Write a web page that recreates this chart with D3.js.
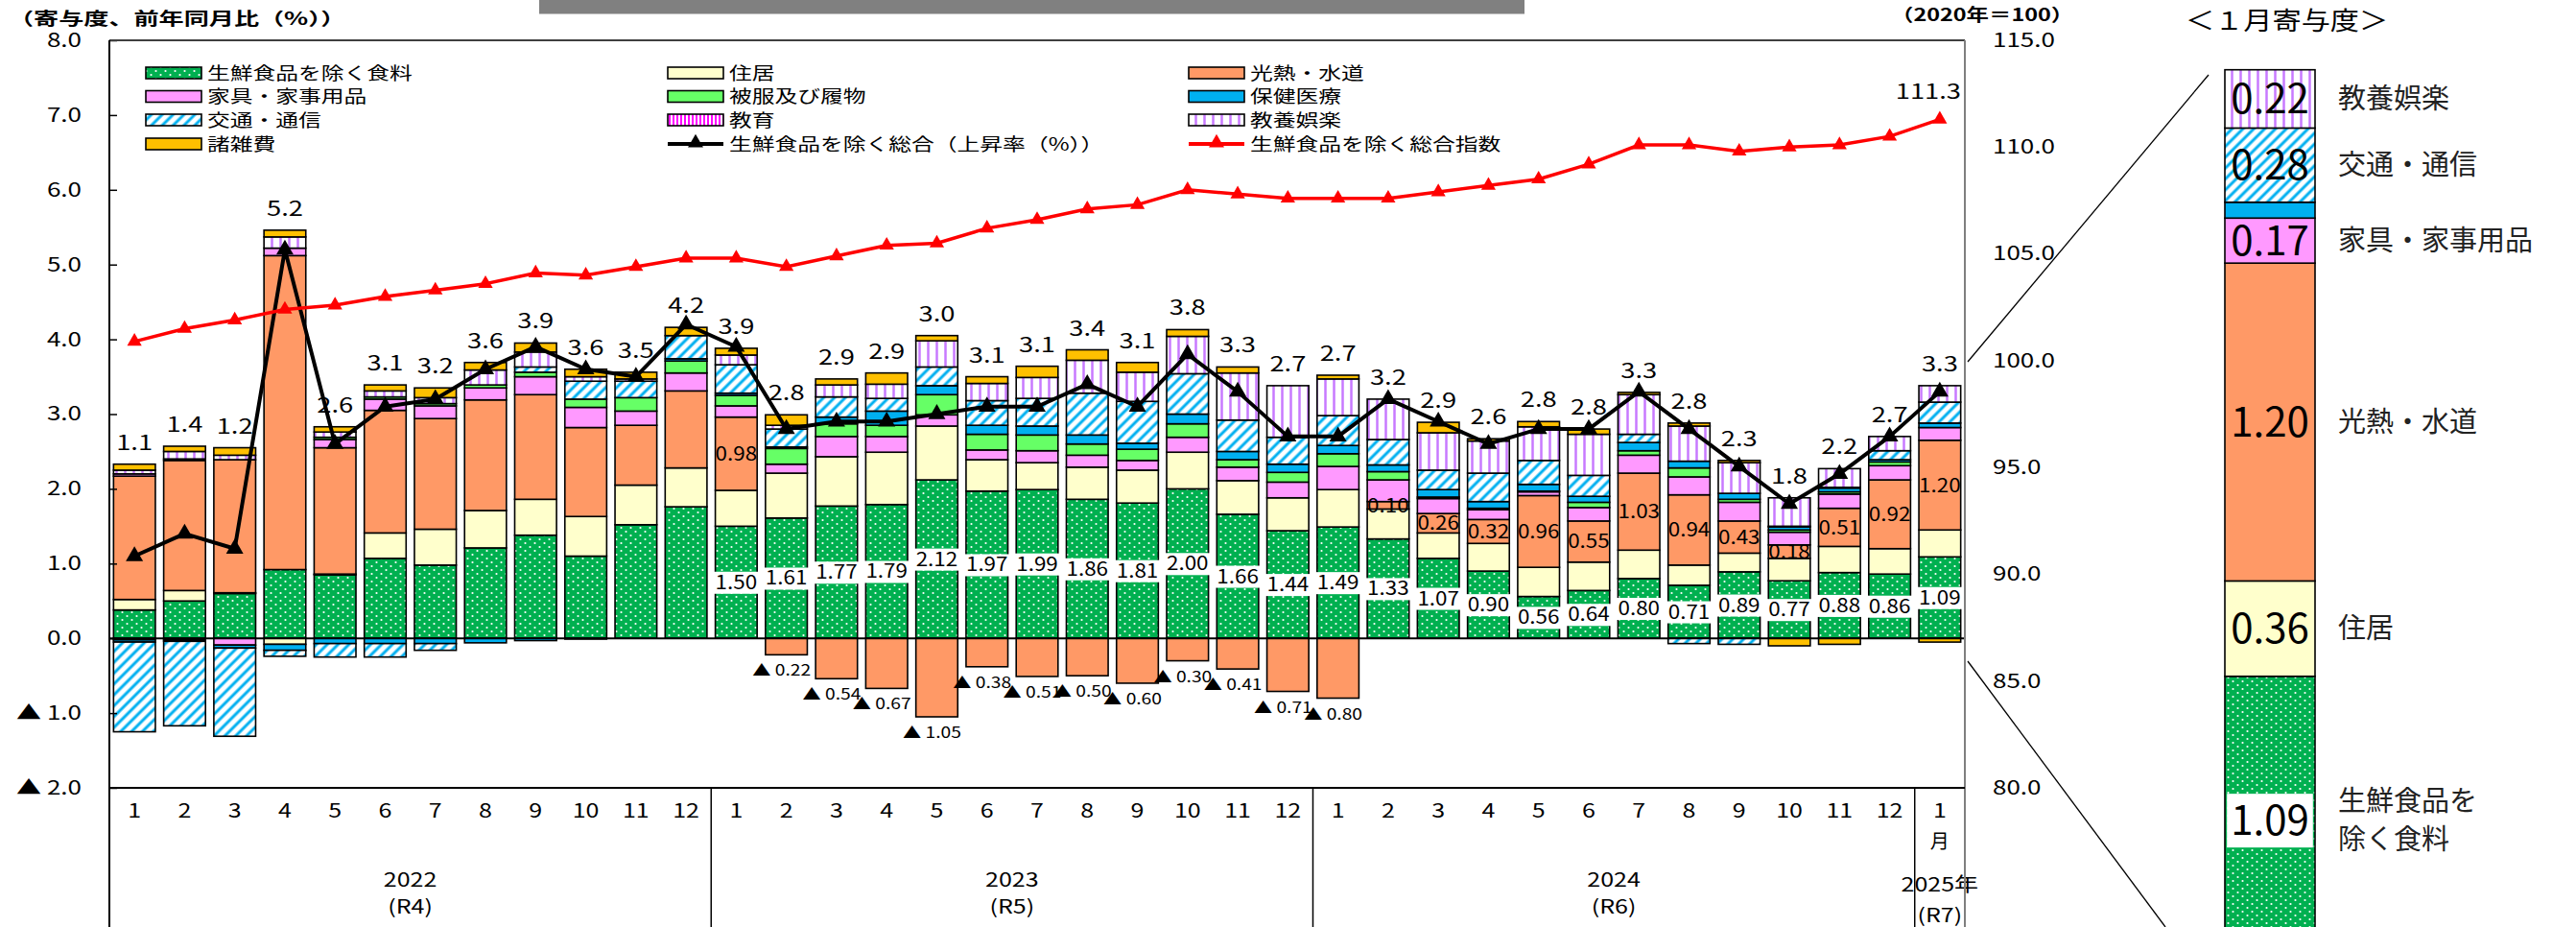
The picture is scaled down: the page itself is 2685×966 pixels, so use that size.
<!DOCTYPE html>
<html lang="ja">
<head>
<meta charset="utf-8">
<title>寄与度</title>
<script src="https://cdn.jsdelivr.net/npm/d3@7"></script>
<style>
  body { margin: 0; background: #fff; }
  svg { display: block; }
  text { font-family: "Noto Sans CJK JP", "Noto Sans", sans-serif; fill: #000; }
</style>
</head>
<body>
<div id="chart"></div>
<script>
// tick labels
const monthLabels = ['1','2','3','4','5','6','7','8','9','10','11','12',
                     '1','2','3','4','5','6','7','8','9','10','11','12',
                     '1','2','3','4','5','6','7','8','9','10','11','12',
                     '1'];
const yearLabels = ['2022', '2023', '2024', '2025年'];
const eraLabels = ['(R4)', '(R5)', '(R6)', '(R7)'];
const yearFirst = [0, 12, 24, 36];
const yearLast = [11, 23, 35, 36];
const leftTicks = [-2, -1, 0, 1, 2, 3, 4, 5, 6, 7, 8];
const rightTicks = [80, 85, 90, 95, 100, 105, 110, 115];

// contributions (percentage points), 2022-1 .. 2025-1
const food = [0.38, 0.50, 0.60, 0.92, 0.85, 1.07, 0.98, 1.21, 1.38, 1.10, 1.52, 1.76,
              1.50, 1.61, 1.77, 1.79, 2.12, 1.97, 1.99, 1.86, 1.81, 2.00, 1.66, 1.44,
              1.49, 1.33, 1.07, 0.90, 0.56, 0.64, 0.80, 0.71, 0.89, 0.77, 0.88, 0.86,
              1.09];
const housing = [0.14, 0.14, 0.01, -0.08, 0.01, 0.34, 0.48, 0.50, 0.48, 0.53, 0.53, 0.52,
                 0.48, 0.60, 0.66, 0.70, 0.72, 0.42, 0.36, 0.43, 0.44, 0.49, 0.45, 0.44,
                 0.50, 0.40, 0.34, 0.37, 0.39, 0.38, 0.38, 0.27, 0.25, 0.30, 0.35, 0.34,
                 0.36];
const energy = [1.65, 1.74, 1.78, 4.20, 1.69, 1.64, 1.48, 1.48, 1.40, 1.19, 0.80, 1.03,
                0.98, -0.22, -0.54, -0.67, -1.05, -0.38, -0.51, -0.50, -0.60, -0.30, -0.41, -0.71,
                -0.80, 0.10, 0.26, 0.32, 0.96, 0.55, 1.03, 0.94, 0.43, 0.18, 0.51, 0.92,
                1.20];
const furniture = [0.03, 0.02, -0.09, 0.10, 0.11, 0.15, 0.17, 0.16, 0.24, 0.27, 0.19, 0.24,
                   0.15, 0.12, 0.27, 0.21, 0.15, 0.13, 0.16, 0.16, 0.13, 0.20, 0.18, 0.21,
                   0.31, 0.29, 0.20, 0.13, 0.05, 0.18, 0.24, 0.24, 0.25, 0.17, 0.19, 0.19,
                   0.17];
const clothing = [-0.02, -0.02, 0.00, 0.00, 0.03, 0.03, 0.03, 0.04, 0.06, 0.11, 0.18, 0.16,
                  0.14, 0.21, 0.17, 0.15, 0.27, 0.21, 0.21, 0.15, 0.15, 0.18, 0.10, 0.13,
                  0.17, 0.11, 0.02, 0.02, 0.01, 0.07, 0.06, 0.12, 0.04, 0.03, 0.03, 0.05,
                  0.00];
const health = [-0.03, -0.02, -0.04, -0.08, -0.07, -0.07, -0.07, -0.06, -0.03, -0.01, 0.00, 0.03,
                0.03, 0.02, 0.09, 0.19, 0.12, 0.12, 0.12, 0.12, 0.08, 0.13, 0.11, 0.11,
                0.11, 0.09, 0.10, 0.09, 0.09, 0.08, 0.11, 0.09, 0.08, 0.04, 0.05, 0.03,
                0.06];
const transport = [-1.20, -1.13, -1.18, -0.08, -0.18, -0.18, -0.09, 0.00, 0.07, 0.24, 0.22, 0.31,
                   0.38, 0.24, 0.27, 0.17, 0.25, 0.33, 0.37, 0.56, 0.56, 0.54, 0.42, 0.36,
                   0.40, 0.34, 0.26, 0.38, 0.32, 0.28, 0.11, -0.07, -0.08, 0.01, 0.01, 0.12,
                   0.28];
const education = [0, 0, 0, 0, 0, 0, 0, 0, 0, 0, 0, 0,
                   0, 0, 0, 0, 0, 0, 0, 0, 0, 0, 0, 0,
                   0, 0, 0, 0, 0, 0, 0, 0, 0, 0, 0, 0,
                   0];
const culture = [0.05, 0.10, 0.06, 0.15, 0.07, 0.08, 0.08, 0.20, 0.20, 0.06, 0.03, 0.00,
                 0.13, 0.05, 0.16, 0.19, 0.35, 0.23, 0.28, 0.44, 0.39, 0.50, 0.63, 0.69,
                 0.49, 0.54, 0.50, 0.43, 0.45, 0.55, 0.53, 0.47, 0.41, 0.38, 0.25, 0.19,
                 0.22];
const misc = [0.08, 0.07, 0.10, 0.09, 0.07, 0.08, 0.13, 0.10, 0.12, 0.10, 0.09, 0.11,
              0.09, 0.14, 0.08, 0.15, 0.07, 0.09, 0.15, 0.14, 0.13, 0.09, 0.08, 0.00,
              0.05, 0.00, 0.14, 0.03, 0.07, 0.07, 0.03, 0.04, 0.03, -0.10, -0.08, 0.00,
              -0.05];

// 生鮮食品を除く総合: year-on-year rate (%) and index (2020=100)
const rate = [1.1, 1.4, 1.2, 5.2, 2.6, 3.1, 3.2, 3.6, 3.9, 3.6, 3.5, 4.2,
              3.9, 2.8, 2.9, 2.9, 3.0, 3.1, 3.1, 3.4, 3.1, 3.8, 3.3, 2.7,
              2.7, 3.2, 2.9, 2.6, 2.8, 2.8, 3.3, 2.8, 2.3, 1.8, 2.2, 2.7,
              3.3];
const indexVals = [100.9, 101.5, 101.9, 102.4, 102.6, 103.0, 103.3, 103.6, 104.1, 104.0, 104.4, 104.8,
                   104.8, 104.4, 104.9, 105.4, 105.5, 106.2, 106.6, 107.1, 107.3, 108.0, 107.8, 107.6,
                   107.6, 107.6, 107.9, 108.2, 108.5, 109.2, 110.1, 110.1, 109.8, 110.0, 110.1, 110.5,
                   111.3];

const panelNames = [['生鮮食品を', '除く食料'], ['住居'], ['光熱・水道'], ['家具・家事用品'], ['被服及び履物'],
                    ['保健医療'], ['交通・通信'], ['教育'], ['教養娯楽'], ['諸雑費']];

const width = 2685, height = 966;
const plot = { left: 114, right: 2048, top: 42, bottom: 821 };
const labelFrom = 12; // value labels start with 2023-1

const svg = d3.select('#chart').append('svg')
  .attr('width', width).attr('height', height);

// widen text horizontally like the stretched original
function stretch(sel, k) {
  sel.each(function () {
    const w = this.getComputedTextLength();
    if (w > 0) d3.select(this).attr('textLength', w * k).attr('lengthAdjust', 'spacingAndGlyphs');
  });
  return sel;
}

// patterns
const defs = svg.append('defs');
const pFood = defs.append('pattern').attr('id', 'p-food')
  .attr('patternUnits', 'userSpaceOnUse').attr('width', 10).attr('height', 8);
pFood.append('rect').attr('width', 10).attr('height', 8).attr('fill', '#00B050');
pFood.append('circle').attr('cx', 2.5).attr('cy', 2).attr('r', 1.1).attr('fill', '#fff');
pFood.append('circle').attr('cx', 7.5).attr('cy', 6).attr('r', 1.1).attr('fill', '#fff');

function stripes(id, size, color, lw, angle) {
  const p = defs.append('pattern').attr('id', id).attr('patternUnits', 'userSpaceOnUse')
    .attr('width', size).attr('height', size).attr('patternTransform', `rotate(${angle})`);
  p.append('rect').attr('width', size).attr('height', size).attr('fill', '#fff');
  p.append('line').attr('x1', size / 2).attr('x2', size / 2).attr('y1', 0).attr('y2', size)
    .attr('stroke', color).attr('stroke-width', lw);
}
stripes('p-transport', 8, '#00B0F0', 3, 45);
stripes('p-edu', 4, '#FF00FF', 2, 0);
stripes('p-culture', 9, '#C879FF', 2.5, 0);

const cats = [
  { key: 'food', name: '生鮮食品を除く食料', values: food, fill: 'url(#p-food)' },
  { key: 'housing', name: '住居', values: housing, fill: '#FFFFCC' },
  { key: 'energy', name: '光熱・水道', values: energy, fill: '#FF9966' },
  { key: 'furniture', name: '家具・家事用品', values: furniture, fill: '#FF99FF' },
  { key: 'clothing', name: '被服及び履物', values: clothing, fill: '#66FF66' },
  { key: 'health', name: '保健医療', values: health, fill: '#00B0F0' },
  { key: 'transport', name: '交通・通信', values: transport, fill: 'url(#p-transport)' },
  { key: 'education', name: '教育', values: education, fill: 'url(#p-edu)' },
  { key: 'culture', name: '教養娯楽', values: culture, fill: 'url(#p-culture)' },
  { key: 'misc', name: '諸雑費', values: misc, fill: '#FFC000' }
];

// scales
const x = d3.scaleBand().domain(d3.range(monthLabels.length))
  .range([plot.left, plot.right]).paddingInner(0.166).paddingOuter(0.083);
const y = d3.scaleLinear().domain([-2, 8]).range([plot.bottom, plot.top]);
const y2 = d3.scaleLinear().domain([80, 115]).range([plot.bottom, plot.top]);
const cx = i => x(i) + x.bandwidth() / 2;

// top grey bar
svg.append('rect').attr('x', 562).attr('y', 0).attr('width', 1027).attr('height', 14.5).attr('fill', '#808080');

// stacked bars
const rows = monthLabels.map((m, i) => {
  const r = { i };
  cats.forEach(c => { r[c.key] = c.values[i]; });
  return r;
});
const series = d3.stack().keys(cats.map(c => c.key)).offset(d3.stackOffsetDiverging)(rows);

const bars = svg.append('g');
series.forEach((layer, li) => {
  bars.selectAll(null)
    .data(layer.filter(d => d[1] !== d[0]))
    .join('rect')
    .attr('x', d => x(d.data.i))
    .attr('width', x.bandwidth())
    .attr('y', d => y(Math.max(d[0], d[1])))
    .attr('height', d => Math.abs(y(d[0]) - y(d[1])))
    .attr('fill', cats[li].fill)
    .attr('stroke', '#000')
    .attr('stroke-width', 1.6);
});

// zero line
svg.append('line').attr('x1', plot.left).attr('x2', plot.right)
  .attr('y1', y(0)).attr('y2', y(0)).attr('stroke', '#000').attr('stroke-width', 2);

// food labels (white box)
const foodLab = svg.append('g');
series[0].forEach((d, i) => {
  if (i < labelFrom) return;
  const t = foodLab.append('text').attr('x', cx(i)).attr('y', y(d[1] / 2) + 7)
    .attr('text-anchor', 'middle').attr('font-size', 20).text(food[i].toFixed(2));
  stretch(t, 1.12);
  const w = t.node().getComputedTextLength() * 1.12;
  foodLab.insert('rect', () => t.node())
    .attr('x', cx(i) - w / 2 - 2).attr('y', y(d[1] / 2) - 11)
    .attr('width', w + 4).attr('height', 23).attr('fill', '#fff');
});

// energy labels
const enLab = svg.append('g');
series[2].forEach((d, i) => {
  if (i < labelFrom) return;
  const v = energy[i];
  if (v > 0) {
    stretch(enLab.append('text').attr('x', cx(i)).attr('y', y((d[0] + d[1]) / 2) + 7)
      .attr('text-anchor', 'middle').attr('font-size', 20).text(v.toFixed(2)), 1.12);
  } else {
    stretch(enLab.append('text').attr('x', cx(i) - 5).attr('y', y(Math.min(d[0], d[1])) + 22)
      .attr('text-anchor', 'middle').attr('font-size', 16).text('▲ ' + Math.abs(v).toFixed(2)), 1.2);
  }
});

// rate line (left axis)
svg.append('path').datum(rate)
  .attr('d', d3.line().x((d, i) => cx(i)).y(d => y(d)))
  .attr('fill', 'none').attr('stroke', '#000').attr('stroke-width', 4).attr('stroke-linejoin', 'round');
svg.append('g').selectAll('path').data(rate).join('path')
  .attr('transform', (d, i) => `translate(${cx(i)},${y(d)})`)
  .attr('d', d3.symbol(d3.symbolTriangle, 140)).attr('fill', '#000');

// total labels above the bars
const posTop = rows.map((r, i) => d3.sum(cats, c => Math.max(0, c.values[i])));
stretch(svg.append('g').selectAll('text').data(rate).join('text')
  .attr('x', (d, i) => cx(i)).attr('y', (d, i) => y(posTop[i]) - 15)
  .attr('text-anchor', 'middle').attr('font-size', 21).text(d => d.toFixed(1)), 1.3);

// index line (right axis)
svg.append('path').datum(indexVals)
  .attr('d', d3.line().x((d, i) => cx(i)).y(d => y2(d)))
  .attr('fill', 'none').attr('stroke', '#FF0000').attr('stroke-width', 3.5);
svg.append('g').selectAll('path').data(indexVals).join('path')
  .attr('transform', (d, i) => `translate(${cx(i)},${y2(d)})`)
  .attr('d', d3.symbol(d3.symbolTriangle, 100)).attr('fill', '#FF0000');
const lastI = indexVals.length - 1;
stretch(svg.append('text').attr('x', cx(lastI) - 12).attr('y', y2(indexVals[lastI]) - 21)
  .attr('text-anchor', 'middle').attr('font-size', 21).text(indexVals[lastI].toFixed(1)), 1.3);

// legend
const colX = [152, 696, 1239];
const rowY = [76, 100.5, 125, 150];
const legend = svg.append('g');
const legItems = cats.map(c => ({ name: c.name, fill: c.fill, type: 'box' }))
  .concat([{ name: '生鮮食品を除く総合（上昇率（%））', color: '#000', type: 'line' },
           { name: '生鮮食品を除く総合指数', color: '#FF0000', type: 'line' }]);
legItems.forEach((it, k) => {
  const lx = colX[k % 3], ly = rowY[Math.floor(k / 3)];
  if (it.type === 'box') {
    legend.append('rect').attr('x', lx).attr('y', ly - 6).attr('width', 58).attr('height', 12)
      .attr('fill', it.fill).attr('stroke', '#000').attr('stroke-width', 1.6);
  } else {
    legend.append('line').attr('x1', lx).attr('x2', lx + 58).attr('y1', ly).attr('y2', ly)
      .attr('stroke', it.color).attr('stroke-width', 4);
    legend.append('path').attr('transform', `translate(${lx + 29},${ly - 1})`)
      .attr('d', d3.symbol(d3.symbolTriangle, 110)).attr('fill', it.color);
  }
  stretch(legend.append('text').attr('x', lx + 64).attr('y', ly + 6.5)
    .attr('font-size', 18).text(it.name), 1.32);
});

// axes
const fmtLeft = v => v < 0 ? '▲ ' + (-v).toFixed(1) : v.toFixed(1);
const gy = svg.append('g').attr('transform', `translate(${plot.left},0)`)
  .call(d3.axisLeft(y).tickValues(leftTicks).tickFormat(fmtLeft).tickSize(-8).tickPadding(29).tickSizeOuter(0));
gy.select('.domain').remove();
gy.selectAll('.tick line').attr('stroke', '#000').attr('stroke-width', 1.5);
stretch(gy.selectAll('text').attr('font-size', 20), 1.3);

const gy2 = svg.append('g').attr('transform', `translate(${plot.right},0)`)
  .call(d3.axisRight(y2).tickValues(rightTicks).tickFormat(d => d.toFixed(1)).tickSize(0).tickPadding(29));
gy2.select('.domain').remove();
stretch(gy2.selectAll('text').attr('font-size', 20), 1.3);

const gx = svg.append('g').attr('transform', `translate(0,${plot.bottom})`)
  .call(d3.axisBottom(x).tickFormat(i => monthLabels[i]).tickSize(0).tickPadding(17));
gx.select('.domain').remove();
stretch(gx.selectAll('text').attr('font-size', 20), 1.25);

// year groups
const step = x.step();
yearLabels.forEach((lab, g) => {
  const mid = (cx(yearFirst[g]) + cx(yearLast[g])) / 2;
  const single = yearFirst[g] === yearLast[g];
  if (single) {
    svg.append('text').attr('x', mid).attr('y', 884).attr('text-anchor', 'middle')
      .attr('font-size', 20).text('月');
  }
  stretch(svg.append('text').attr('x', mid).attr('y', single ? 929 : 924).attr('text-anchor', 'middle')
    .attr('font-size', 20).text(lab), 1.25);
  stretch(svg.append('text').attr('x', mid).attr('y', single ? 961 : 952).attr('text-anchor', 'middle')
    .attr('font-size', 20).text(eraLabels[g]), 1.25);
  if (g > 0) {
    const bx = plot.left + step * yearFirst[g];
    svg.append('line').attr('x1', bx).attr('x2', bx).attr('y1', plot.bottom).attr('y2', height)
      .attr('stroke', '#000').attr('stroke-width', 1.5);
  }
});

// frame
const frame = svg.append('g').attr('stroke-width', 2);
frame.append('line').attr('x1', plot.left).attr('x2', plot.right).attr('y1', plot.top).attr('y2', plot.top).attr('stroke', '#404040');
frame.append('line').attr('x1', plot.left).attr('x2', plot.left).attr('y1', plot.top).attr('y2', height).attr('stroke', '#000');
frame.append('line').attr('x1', plot.right).attr('x2', plot.right).attr('y1', plot.top).attr('y2', height).attr('stroke', '#7f7f7f');
frame.append('line').attr('x1', plot.left).attr('x2', plot.right).attr('y1', plot.bottom).attr('y2', plot.bottom).attr('stroke', '#000');

// axis titles
stretch(svg.append('text').attr('x', 9).attr('y', 26).attr('font-size', 18).attr('font-weight', 'bold')
  .text('（寄与度、前年同月比（%））'), 1.45);
stretch(svg.append('text').attr('x', 1971).attr('y', 22).attr('font-size', 18).attr('font-weight', 'bold')
  .text('（2020年＝100）'), 1.3);

// right panel: contributions of the latest month
const last = monthLabels.length - 1;
const panelRow = [Object.fromEntries(cats.map(c => [c.key, Math.max(0, c.values[last])]))];
const pSeries = d3.stack().keys(cats.map(c => c.key))(panelRow);
const pTotal = d3.sum(cats, c => Math.max(0, c.values[last]));
const panelTop = 72.7, panelX = 2319, panelW = 94;
const yp = d3.scaleLinear().domain([0, pTotal]).range([panelTop + pTotal * 276, panelTop]);

svg.append('text').attr('x', 2278).attr('y', 31).attr('font-size', 26).text('＜１月寄与度＞')
  .call(s => stretch(s, 1.16));

const panel = svg.append('g');
pSeries.forEach((layer, li) => {
  const d = layer[0];
  if (d[1] - d[0] <= 0) return;
  panel.append('rect').attr('x', panelX).attr('width', panelW)
    .attr('y', yp(d[1])).attr('height', yp(d[0]) - yp(d[1]))
    .attr('fill', cats[li].fill).attr('stroke', '#000').attr('stroke-width', 1.6);
});
pSeries.forEach((layer, li) => {
  const d = layer[0], v = d[1] - d[0];
  if (v < 0.1) return;
  const mid = yp((d[0] + d[1]) / 2);
  const t = panel.append('text').attr('x', panelX + panelW / 2).attr('y', mid + 15)
    .attr('text-anchor', 'middle').attr('font-size', 42).text(v.toFixed(2));
  if (li === 0) {
    const w = t.node().getComputedTextLength();
    panel.insert('rect', () => t.node()).attr('x', panelX + panelW / 2 - w / 2 - 4).attr('y', mid - 28)
      .attr('width', w + 8).attr('height', 56).attr('fill', '#fff');
  }
  const names = panelNames[li];
  names.forEach((n, k) => {
    panel.append('text').attr('x', 2437).attr('y', mid + 10 + (k - (names.length - 1) / 2) * 40)
      .attr('font-size', 29).style('fill', '#222').text(n);
  });
});

// connector lines to the panel
svg.append('line').attr('x1', plot.right + 3).attr('y1', 377).attr('x2', 2302).attr('y2', 78)
  .attr('stroke', '#000').attr('stroke-width', 1.3);
svg.append('line').attr('x1', plot.right + 3).attr('y1', 689).attr('x2', 2257).attr('y2', height)
  .attr('stroke', '#000').attr('stroke-width', 1.3);
</script>
</body>
</html>
